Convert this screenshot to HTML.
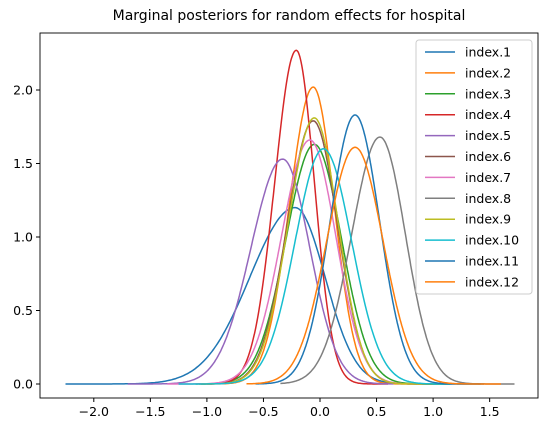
<!DOCTYPE html>
<html><head><meta charset="utf-8"><style>
body{margin:0;background:#fff}
svg{font-family:"DejaVu Sans","Liberation Sans",sans-serif}
</style></head><body>
<svg id="c" width="547" height="435"></svg>
<script>
const labels=["index.1","index.2","index.3","index.4","index.5","index.6","index.7","index.8","index.9","index.10","index.11","index.12"];
const modes=[-0.22,-0.06,-0.05,-0.21,-0.33,-0.06,-0.09,0.53,-0.05,0.03,0.31,0.31];
const peaks=[1.20,2.02,1.63,2.27,1.53,1.79,1.66,1.68,1.81,1.60,1.83,1.61];
const sdLeft=[0.40,0.21,0.25,0.19,0.28,0.23,0.25,0.25,0.23,0.25,0.22,0.25];
const sdRight=[0.265,0.185,0.24,0.16,0.24,0.215,0.23,0.225,0.21,0.25,0.217,0.247];
const xMins=[-2.25,-1.07,-1.1,-1.0,-1.7,-1.05,-1.35,-0.35,-1.05,-1.25,-0.57,-0.65];
const xMaxs=[1.45,1.0,1.15,0.6,0.65,1.0,0.9,1.72,1.0,1.15,1.42,1.6];
const xTicks=[-2.0,-1.5,-1.0,-0.5,0.0,0.5,1.0,1.5];
const yTicks=[0.0,0.5,1.0,1.5,2.0];
const colors=["#1f77b4","#ff7f0e","#2ca02c","#d62728","#9467bd","#8c564b","#e377c2","#7f7f7f","#bcbd22","#17becf","#1f77b4","#ff7f0e"];
const NS="http://www.w3.org/2000/svg";
const svg=document.getElementById('c');
const X=v=>320+v*113.1, Y=v=>384-v*147;
function mk(t,a,p){const e=document.createElementNS(NS,t);for(const k in a)e.setAttribute(k,a[k]);(p||svg).appendChild(e);return e;}
const title=mk('text',{x:289,y:20,'text-anchor':'middle','font-size':14,fill:'#000'});


title.textContent="Marginal posteriors for random effects for hospital";
const axes=mk('rect',{x:40,y:33,width:498,height:365,fill:'none',stroke:'#000','stroke-width':0.9});


xTicks.forEach(t=>{
 mk('line',{x1:X(t),x2:X(t),y1:398,y2:402,stroke:'#000'});
 const tx=mk('text',{x:X(t),y:416,'text-anchor':'middle','font-size':12.5});
 
 
 tx.textContent=t.toFixed(1).replace('-','−');
});
yTicks.forEach(t=>{
 mk('line',{x1:36,x2:40,y1:Y(t),y2:Y(t),stroke:'#000'});
 const tx=mk('text',{x:33,y:Y(t)+4.5,'text-anchor':'end','font-size':12.5});
 
 
 tx.textContent=t.toFixed(1);
});
labels.forEach((l,i)=>{
 let d='';
 for(let k=0;k<=300;k++){
  const x=xMins[i]+(xMaxs[i]-xMins[i])*k/300;
  const s=x<modes[i]?sdLeft[i]:sdRight[i];
  const y=peaks[i]*Math.exp(-0.5*((x-modes[i])/s)**2);
  d+=(k?'L':'M')+X(x).toFixed(1)+','+Y(y).toFixed(1);
 }
 const p=mk('path',{d:d,fill:'none',stroke:colors[i],'stroke-width':1.5});
 
 
});
const lg=mk('g',{});


mk('rect',{x:416,y:40,width:116,height:254,rx:3,fill:'#fff','fill-opacity':0.8,stroke:'#ccc'},lg);
labels.forEach((l,i)=>{
 const y=52+i*20.9;
 mk('line',{x1:425,x2:455,y1:y,y2:y,stroke:colors[i],'stroke-width':1.5},lg);
 const t=mk('text',{x:465,y:y+4.5,'font-size':12.5},lg);
 
 
 t.textContent=l;
});
</script>
</body></html>
